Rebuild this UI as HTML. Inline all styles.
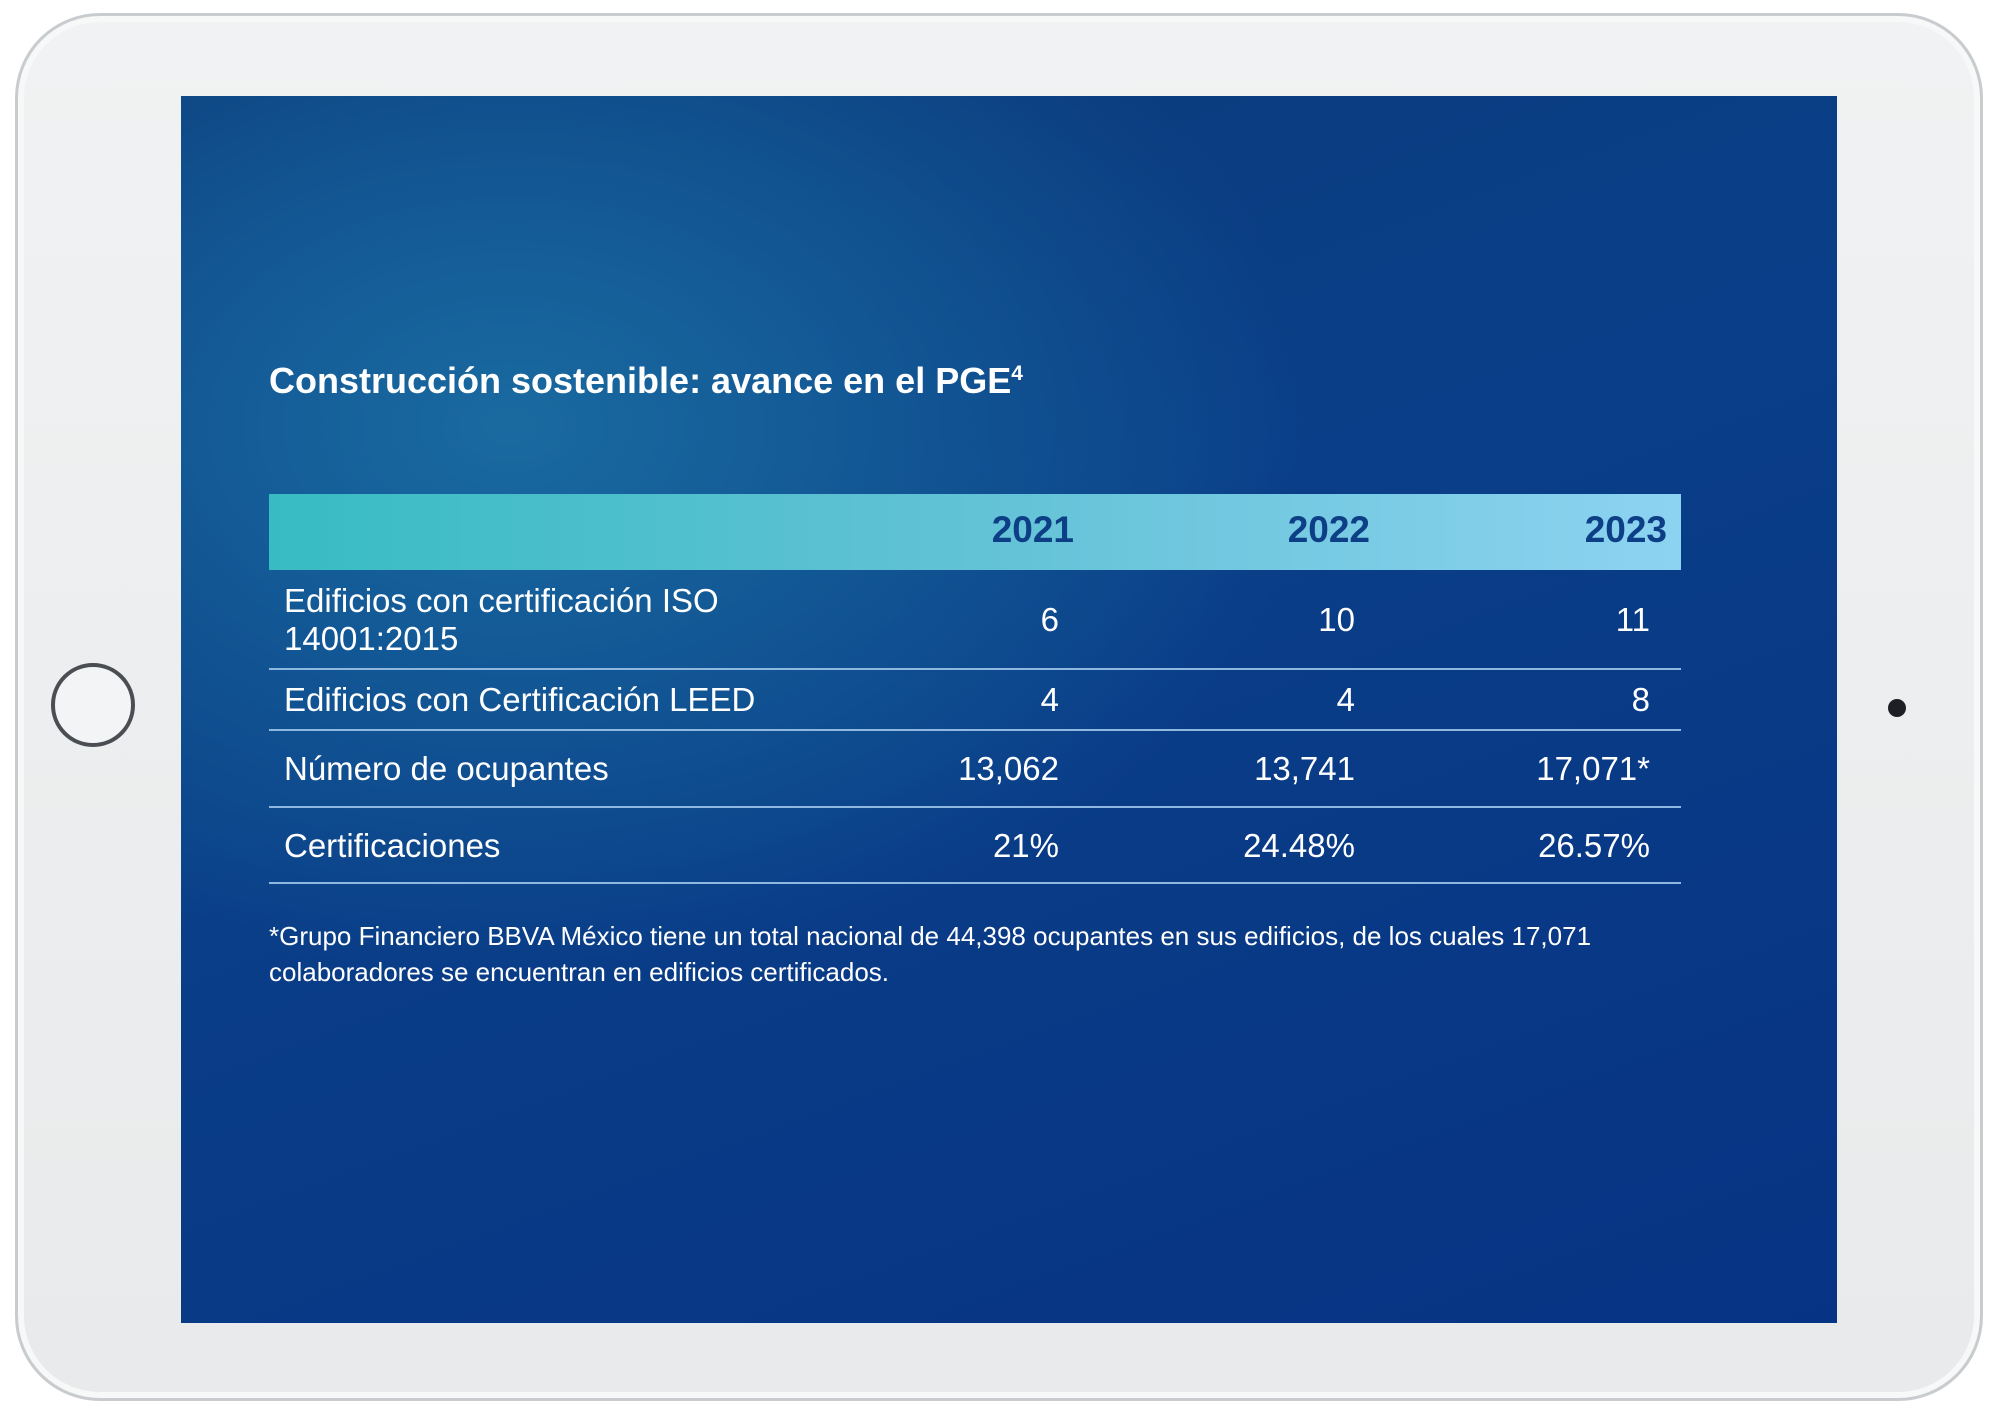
<!DOCTYPE html>
<html><head><meta charset="utf-8"><style>
html,body{margin:0;padding:0;width:2000px;height:1412px;background:#fff;overflow:hidden;font-family:"Liberation Sans",sans-serif;}
.tab{position:absolute;left:15px;top:13px;width:1968px;height:1388px;border-radius:85px;background:linear-gradient(180deg,#f1f2f3,#e8eaeb);border:3px solid #c9cccf;box-sizing:border-box;box-shadow:inset 0 0 0 6px #f7f8f8;}
.scr{position:absolute;left:181px;top:96px;width:1656px;height:1227px;overflow:hidden;
background:radial-gradient(ellipse 800px 550px at 330px 330px,#1a6aa0 0%,#145c98 35%,rgba(10,60,140,0) 100%),linear-gradient(160deg,#0b3a78 0%,#0a3f88 40%,#073384 100%);}
.t{position:absolute;color:#fff;white-space:nowrap}
.title{left:88px;top:264px;font-size:36px;font-weight:bold}
.hdr{position:absolute;left:88px;top:398px;width:1412px;height:76px;background:linear-gradient(90deg,#38bcc3,#62c2d6 50%,#8dd3f1);}
.yr{position:absolute;top:413px;font-size:37px;font-weight:bold;color:#0d3f86}
.ln{position:absolute;left:88px;width:1412px;height:2px;background:#8fb8e0}
.c{font-size:33px}
.r{text-align:right}
.f{font-size:26px;left:88px}
</style></head><body>
<div class="tab"></div>
<div style="position:absolute;left:51px;top:663px;width:84px;height:84px;border-radius:50%;border:4px solid #4a4d52;box-sizing:border-box;background:#f3f4f5"></div>
<div style="position:absolute;left:1888px;top:699px;width:18px;height:18px;border-radius:50%;background:#1d1f24"></div>
<div class="scr">
<div class="t title">Construcción sostenible: avance en el PGE<sup style="font-size:21px">4</sup></div>
<div class="hdr"></div>
<div class="yr" style="right:763px">2021</div>
<div class="yr" style="right:467px">2022</div>
<div class="yr" style="right:170px">2023</div>
<div class="t c" style="left:103px;top:486px;line-height:38px">Edificios con certificación ISO<br>14001:2015</div>
<div class="t c r" style="right:778px;top:505px">6</div>
<div class="t c r" style="right:482px;top:505px">10</div>
<div class="t c r" style="right:187px;top:505px">11</div>
<div class="ln" style="top:572px"></div>
<div class="t c" style="left:103px;top:585px">Edificios con Certificación LEED</div>
<div class="t c r" style="right:778px;top:585px">4</div>
<div class="t c r" style="right:482px;top:585px">4</div>
<div class="t c r" style="right:187px;top:585px">8</div>
<div class="ln" style="top:633px"></div>
<div class="t c" style="left:103px;top:654px">Número de ocupantes</div>
<div class="t c r" style="right:778px;top:654px">13,062</div>
<div class="t c r" style="right:482px;top:654px">13,741</div>
<div class="t c r" style="right:187px;top:654px">17,071*</div>
<div class="ln" style="top:710px"></div>
<div class="t c" style="left:103px;top:731px">Certificaciones</div>
<div class="t c r" style="right:778px;top:731px">21%</div>
<div class="t c r" style="right:482px;top:731px">24.48%</div>
<div class="t c r" style="right:187px;top:731px">26.57%</div>
<div class="ln" style="top:786px"></div>
<div class="t f" style="top:825px">*Grupo Financiero BBVA México tiene un total nacional de 44,398 ocupantes en sus edificios, de los cuales 17,071</div>
<div class="t f" style="top:861px">colaboradores se encuentran en edificios certificados.</div>
</div>
</body></html>
